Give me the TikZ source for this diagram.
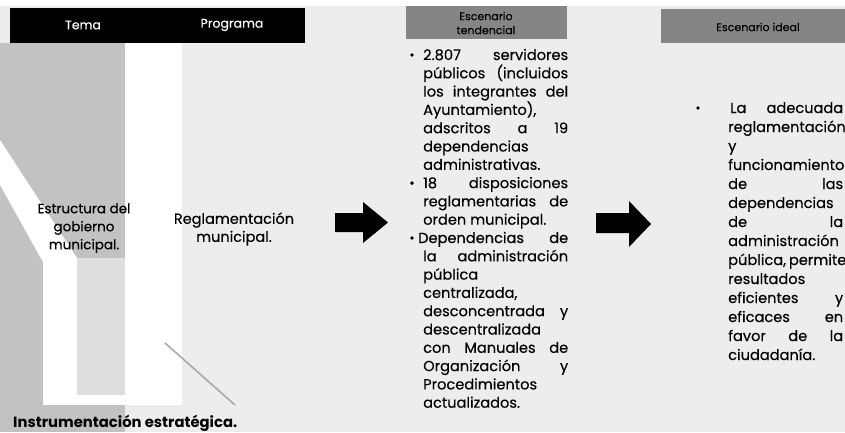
\documentclass[tikz,border=0pt]{standalone}
\usepackage{fontspec}
\setmainfont{Poppins}
\newfontfamily\heavyfont[FakeBold=0.25]{Poppins}
\definecolor{densebg}{gray}{0.76}
\definecolor{midbg}{gray}{0.87}
\definecolor{lightbg}{gray}{0.93}
\definecolor{headgray}{gray}{0.52}
\begin{document}
\begin{tikzpicture}[x=1pt,y=-1pt,
  body/.style={font=\heavyfont\fontsize{14.6}{16}\selectfont, inner sep=0pt, anchor=base west},
  lefttxt/.style={font=\heavyfont\fontsize{13.5}{18}\selectfont, inner sep=0pt, align=center},
  hdr/.style={font=\heavyfont\fontsize{12.5}{14}\selectfont, text=white, inner sep=0pt},
  ghdr/.style={font=\heavyfont\fontsize{11}{14}\selectfont, inner sep=0pt, align=center},
  dot/.style={circle, fill=black, inner sep=0pt, minimum size=3.8pt},
  bigarrow/.style={fill=black}]
\useasboundingbox (0,0) rectangle (845,432);
% ---------- background ----------
\begin{scope}
\clip (0,0) rectangle (845,432);
\fill[lightbg] (0,0) rectangle (845,432);
\fill[white] (0,0) rectangle (845,6);
\fill[densebg] (0,43) -- (125,43) -- (125,432) -- (0,432) -- cycle;
\fill[white] (0,140) -- (77,258) -- (77,395) -- (43,395) -- (43,262) -- (0,185) -- cycle;
\fill[midbg] (77,258) -- (125,258) -- (125,395) -- (77,395) -- cycle;
\fill[white] (125,43) -- (182,43) -- (182,405) -- (125,405) -- cycle;
\fill[white] (43,395) rectangle (182,405);
\draw[gray!70, line width=1.5pt] (165,343) -- (235,405);
\end{scope}
% ---------- header bar ----------
\fill[black] (10,8) rectangle (305,43);
\node[hdr] (tema) at (83,25) {Tema};
\node[hdr] (prog) at (232,25) {Programa};
% ---------- left texts ----------
\node[lefttxt] (estr) at (84,228) {Estructura del\\gobierno\\municipal.};
\node[lefttxt, font=\heavyfont\fontsize{14.5}{18}\selectfont] (regl) at (234,229) {Reglamentación\\municipal.};
\node[body, font=\bfseries\fontsize{14.8}{16}\selectfont] (instr) at (13,427) {Instrumentación estratégica.};
% ---------- arrows ----------
\fill[bigarrow] (335,213) -- (363,213) -- (363,202) -- (388,222.5) -- (363,243) -- (363,232) -- (335,232) -- cycle;
\fill[bigarrow] (596,213) -- (629,213) -- (629,201) -- (651,224) -- (629,247) -- (629,233) -- (596,233) -- cycle;
% ---------- column 2 ----------
\fill[headgray] (406,6) rectangle (567,39);
\node[ghdr] (h2) at (486,23) {Escenario\\tendencial};
\def\cw{145pt}
\node[dot] (b21) at (412,55) {};
\node[body] (l1) at (423,60) {\makebox[\cw][s]{2.807 servidores}};
\node[body] (l2) at (423,78.3) {\makebox[\cw][s]{públicos (incluidos}};
\node[body] (l3) at (423,96.6) {\makebox[\cw][s]{los integrantes del}};
\node[body] (l4) at (423,114.9) {Ayuntamiento),};
\node[body] (l5) at (423,133.2) {\makebox[\cw][s]{adscritos a 19}};
\node[body] (l6) at (423,151.5) {dependencias};
\node[body] (l7) at (423,169.8) {administrativas.};
\node[dot] (b22) at (412,183.1) {};
\node[body] (l8) at (423,188.1) {\makebox[\cw][s]{18 disposiciones}};
\node[body] (l9) at (423,206.4) {\makebox[\cw][s]{reglamentarias de}};
\node[body] (l10) at (423,224.7) {orden municipal.};
\node[dot] (b23) at (412,238) {};
\node[body] (l11) at (418,243) {\makebox[150pt][s]{Dependencias de}};
\node[body] (l12) at (423,261.3) {\makebox[\cw][s]{la administración}};
\node[body] (l13) at (423,279.6) {pública};
\node[body] (l14) at (423,297.9) {centralizada,};
\node[body] (l15) at (423,316.2) {\makebox[\cw][s]{desconcentrada y}};
\node[body] (l16) at (423,334.5) {descentralizada};
\node[body] (l17) at (423,352.8) {\makebox[\cw][s]{con Manuales de}};
\node[body] (l18) at (423,371.1) {\makebox[\cw][s]{Organización y}};
\node[body] (l19) at (423,389.4) {Procedimientos};
\node[body] (l20) at (423,407.7) {actualizados.};
% ---------- column 4 ----------
\fill[headgray] (661,9) rectangle (845,43);
\node[ghdr] (h4) at (758,27) {Escenario ideal};
\def\dw{115pt}
\node[dot] (b41) at (698,108) {};
\node[body] (m1) at (730,113) {\makebox[113pt][s]{La adecuada}};
\node[body] (m2) at (728,132) {reglamentación};
\node[body] (m3) at (728,151) {y};
\node[body] (m4) at (728,170) {funcionamiento};
\node[body] (m5) at (728,189) {\makebox[\dw][s]{de las}};
\node[body] (m6) at (728,208) {dependencias};
\node[body] (m7) at (728,227) {\makebox[\dw][s]{de la}};
\node[body] (m8) at (728,246) {administración};
\node[body] (m9) at (728,265) {\makebox[\dw][s]{pública, permite}};
\node[body] (m10) at (728,284) {resultados};
\node[body] (m11) at (728,303) {\makebox[\dw][s]{eficientes y}};
\node[body] (m12) at (728,322) {\makebox[\dw][s]{eficaces en}};
\node[body] (m13) at (728,341) {\makebox[\dw][s]{favor de la}};
\node[body] (m14) at (728,360) {ciudadanía.};
\end{tikzpicture}
\end{document}
